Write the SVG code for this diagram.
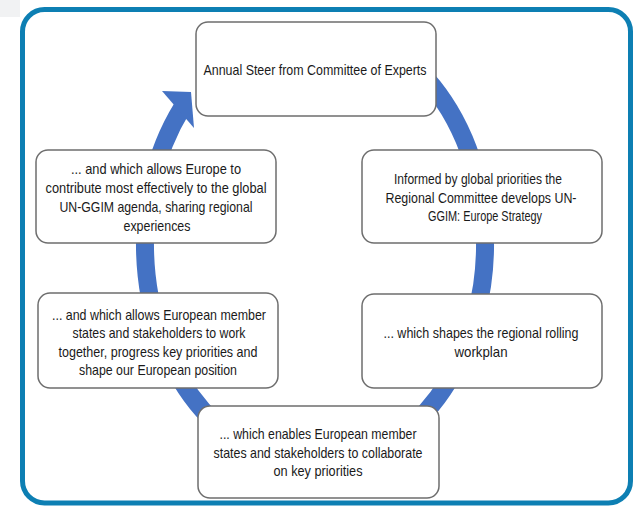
<svg xmlns="http://www.w3.org/2000/svg" width="637" height="508" viewBox="0 0 637 508">
<style>
.box{fill:#ffffff;stroke:#6e6e6e;stroke-width:1.5}
.t{font-family:"Liberation Sans",Arial,sans-serif;font-size:15px;fill:#1a1a1a;text-anchor:middle}
.ring{fill:none;stroke:#4472c4;stroke-width:18;stroke-linecap:butt}
</style>
<rect x="0" y="0" width="637" height="508" fill="#ffffff"/>
<rect x="0" y="0" width="20" height="17" fill="#f1f2f3"/>
<rect id="frame" x="22.5" y="9.5" width="608" height="493.5" rx="22" fill="#ffffff" stroke="#0d7fb3" stroke-width="5"/>
<g id="connectors">
<path class="ring" d="M400,54.5 A170,220 0 1 1 182,108"/>
<polygon points="162,91 191,92 194,128" fill="#4472c4"/>
</g>
<g id="n-top">
<rect class="box" x="196" y="22" width="240" height="94" rx="12"/>
<text class="t" x="315" y="75" textLength="223" lengthAdjust="spacingAndGlyphs">Annual Steer from Committee of Experts</text>
</g>
<g id="n-left1">
<rect class="box" x="36" y="150" width="240" height="93" rx="12"/>
<text class="t" x="156" y="174" textLength="170" lengthAdjust="spacingAndGlyphs">...  and which allows Europe to</text>
<text class="t" x="156" y="193" textLength="221" lengthAdjust="spacingAndGlyphs">contribute most effectively to the global</text>
<text class="t" x="156" y="212" textLength="193" lengthAdjust="spacingAndGlyphs">UN-GGIM agenda, sharing regional</text>
<text class="t" x="157" y="231" textLength="67" lengthAdjust="spacingAndGlyphs">experiences</text>
</g>
<g id="n-right1">
<rect class="box" x="362" y="150" width="240" height="93" rx="12"/>
<text class="t" x="478" y="184" textLength="168" lengthAdjust="spacingAndGlyphs">Informed by global priorities the</text>
<text class="t" x="481" y="203" textLength="191" lengthAdjust="spacingAndGlyphs">Regional Committee  develops UN-</text>
<text class="t" x="485" y="221" textLength="114" lengthAdjust="spacingAndGlyphs">GGIM: Europe Strategy</text>
</g>
<g id="n-left2">
<rect class="box" x="38" y="293" width="240" height="95" rx="12"/>
<text class="t" x="159" y="320" textLength="214" lengthAdjust="spacingAndGlyphs">... and which allows European member</text>
<text class="t" x="159" y="338" textLength="173" lengthAdjust="spacingAndGlyphs">states and stakeholders to work</text>
<text class="t" x="158" y="357" textLength="199" lengthAdjust="spacingAndGlyphs">together, progress key priorities and</text>
<text class="t" x="158" y="375" textLength="158" lengthAdjust="spacingAndGlyphs">shape our European position</text>
</g>
<g id="n-right2">
<rect class="box" x="362" y="294" width="240" height="94" rx="12"/>
<text class="t" x="481" y="338" textLength="195" lengthAdjust="spacingAndGlyphs">... which shapes the regional rolling</text>
<text class="t" x="481" y="357" textLength="53" lengthAdjust="spacingAndGlyphs">workplan</text>
</g>
<g id="n-bottom">
<rect class="box" x="198" y="406" width="241" height="92" rx="12"/>
<text class="t" x="318" y="439" textLength="197" lengthAdjust="spacingAndGlyphs">... which enables European member</text>
<text class="t" x="318" y="458" textLength="209" lengthAdjust="spacingAndGlyphs">states and stakeholders to collaborate</text>
<text class="t" x="318" y="476" textLength="89" lengthAdjust="spacingAndGlyphs">on key priorities</text>
</g>
</svg>
